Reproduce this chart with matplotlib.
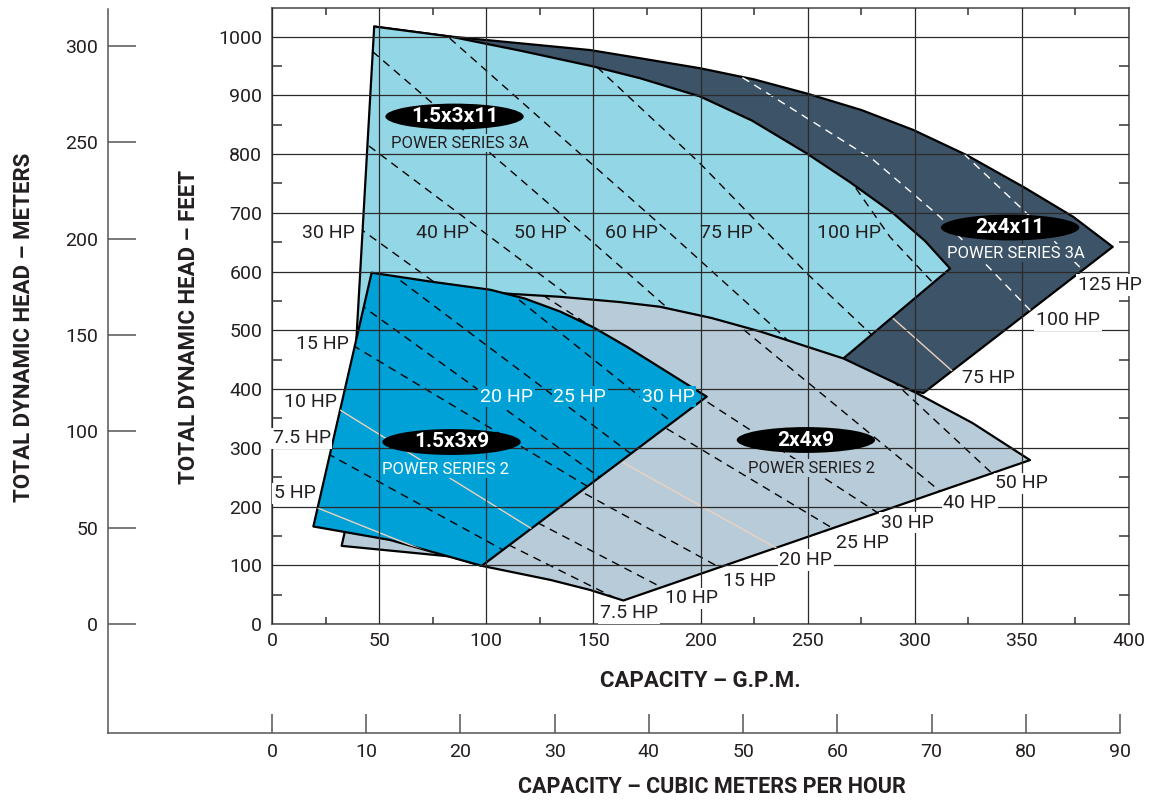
import numpy as np
import matplotlib.pyplot as plt
from matplotlib.patches import Polygon, Ellipse

plt.rcParams['font.family'] = ['Roboto', 'DejaVu Sans']
plt.rcParams['lines.scale_dashes'] = False

# ---- operating ranges, capacity (GPM) vs total dynamic head (ft)
q_3x11 = [47.7, 83.1, 115.8, 150.0, 171.8, 199.8, 224.0, 249.6, 269.8, 290.0, 304.8, 316.5,
          266.7, 199.8, 106.4, 46.7, 38.3]
h_3x11 = [1017, 1000, 976, 949, 929, 898, 857, 801, 752, 699, 652, 605,
          452, 475, 534, 552, 415]

q_4x11 = [47.7, 83.1, 148.4, 171.8, 199.8, 225.0, 249.6, 275.0, 299.3, 324.3, 350.7, 374.0, 392.4,
          304.0, 266.7, 153.1]
h_4x11 = [1017, 1000, 977, 963, 946, 927, 903, 875, 841, 798, 744, 693, 642,
          393, 424, 807]

q_3x9 = [46.5, 73.8, 101.8, 118.0, 134.4, 150.0, 165.6, 185.8, 202.9, 97.9, 55.1, 19.3]
h_3x9 = [598, 583, 569, 554, 532, 505, 472, 426, 387, 99, 143, 166]

q_4x9 = [59.7, 111.1, 134.4, 162.4, 181.1, 205.0, 227.8, 266.7, 300.9, 327.0, 353.8,
         164.0, 148.4, 130.0, 97.9, 83.1, 32.5]
h_4x9 = [577, 562, 557, 548, 540, 521, 498, 452, 393, 342, 279,
         40, 58, 75, 99, 115, 133]

# ---- horsepower lines for each pump
hp_3x11 = ['30 HP', '40 HP', '50 HP', '60 HP', '75 HP', '100 HP']
hpq_3x11 = [[35, 100.2, 160], [40, 139.1, 190], [42, 134.4, 185.8, 230],
            [78, 185.8, 234, 262], [147, 199.8, 249.6, 279.1, 300], [265, 288.4, 310]]
hph_3x11 = [[689, 517.5, 360], [828, 557, 417], [990, 699, 534, 393],
            [1013, 665, 506, 410], [964, 784, 597, 495, 422], [781, 659, 575]]

hp_4x11 = ['100 HP', '125 HP', '75 HP']
hpq_4x11 = [[214, 280.7, 311.8, 353.8, 362], [318, 352.3, 385], [285, 322]]
hph_4x11 = [[943, 790, 693, 534.5, 504], [817, 699, 578], [536, 416]]

hp_3x9 = ['5 HP', '7.5 HP', '10 HP', '15 HP', '20 HP', '25 HP', '30 HP']
hpq_3x9 = [[15, 120], [20, 140], [25, 160], [32, 180], [30, 190], [60, 210], [100, 220]]
hph_3x9 = [[206.7, 53.4], [301.8, 61.8], [379.5, 74.4], [486.8, 162.6],
           [573.2, 152.2], [584.4, 173.3], [596.4, 246.0]]

hp_4x9 = ['7.5 HP', '10 HP', '15 HP', '20 HP', '25 HP', '30 HP', '40 HP', '50 HP']
hpq_4x9 = [[40, 165], [60, 190], [60, 215], [80, 241], [100, 267], [110, 288], [200, 317], [280, 341]]
hph_4x9 = [[262.9, 35.4], [293.9, 46.9], [394.1, 84.1], [444.9, 118.0],
           [517.0, 151.3], [598.7, 176.8], [561.5, 210.5], [447.0, 239.6]]

# ---- pump names
models = ['1.5x3x11', '2x4x11', '1.5x3x9', '2x4x9']
series = ['POWER SERIES 3A', 'POWER SERIES 3A', 'POWER SERIES 2', 'POWER SERIES 2']

# layout (label anchors in data units)
lab_3x11 = [(38.7, 665.5, 'right'), (67.2, 665.5, 'left'), (113.0, 665.5, 'left'),
            (155.4, 665.5, 'left'), (199.8, 665.5, 'left'), (254.2, 665.5, 'left')]
lab_4x11 = [(356.6, 517.5), (376.2, 577.0), (322.1, 418.7)]
lab_3x9 = [(20.5, 222.5, 'right'), (27.4, 316.1, 'right'), (30.2, 378.4, 'right'),
           (36.1, 476.6, 'right'), (97.1, 386.9, 'left'), (131.3, 386.9, 'left'),
           (172.6, 386.9, 'left')]
lab_4x9 = [(153.1, 18.7), (183.4, 43.7), (210.4, 73.7), (236.8, 108.9),
           (263.2, 137.4), (284.2, 172.4), (313.3, 206.5), (337.5, 239.5)]
ell_pos = [(85.2, 863.8), (344.5, 674.9), (83.8, 309.8), (249.2, 313.2)]
sub_pos = [(87.7, 818.7), (347.3, 631.5), (81.2, 263.8), (251.6, 265.5)]

c_3x11 = '#93d7e6'
c_4x11 = '#3d5367'
c_3x9 = '#00a1d6'
c_4x9 = '#b7ccd8'
txt = '#231f20'
light = '#ecd2c0'

W, H = 1164, 800
fig = plt.figure(figsize=(W / 100, H / 100), dpi=100)

# secondary scales: meters and m3/h
axm = fig.add_axes([108 / W, 1 - 733 / H, (1120 - 108) / W, (733 - 9) / H])
axm.patch.set_visible(False)
axm.spines['top'].set_visible(False)
axm.spines['right'].set_visible(False)
for s in ['left', 'bottom']:
    axm.spines[s].set_color('#555555')
    axm.spines[s].set_linewidth(1.1)
axm.set_xlim(-17.4, 90.0)
axm.set_ylim(-56.55, 319.07)
axm.set_xticks(np.arange(0, 91, 10))
axm.set_yticks(np.arange(0, 301, 50))
axm.tick_params(axis='y', direction='in', length=20, width=1.1, color='#555555',
                labelsize=14, labelcolor=txt, pad=7)
axm.tick_params(axis='x', direction='in', length=14, width=1.1, color='#555555',
                labelsize=14, labelcolor=txt, pad=7)

# main chart
ax = fig.add_axes([272 / W, 1 - 624 / H, 857 / W, 616.5 / H])
ax.set_xlim(0, 400)
ax.set_ylim(0, 1049.4)
ax.set_xticks(np.arange(0, 401, 50))
ax.set_yticks(np.arange(0, 1001, 100))
ax.set_xticks(np.arange(25, 400, 50), minor=True)
ax.set_yticks(np.arange(50, 1050, 100), minor=True)
ax.tick_params(which='major', length=0, labelsize=14, labelcolor=txt)
ax.tick_params(axis='x', which='major', pad=6)
ax.tick_params(axis='y', which='major', pad=7)
ax.tick_params(axis='x', which='minor', direction='in', top=True, bottom=True,
               length=5, width=1.1, color='#333333')
ax.tick_params(axis='y', which='minor', direction='in', left=True, right=True,
               length=7, width=1.1, color='#333333')
ax.grid(True, which='major', color='#2a2a2a', lw=0.9)
ax.set_axisbelow(False)
for s in ax.spines.values():
    s.set_color('#444444')
    s.set_linewidth(1.1)


def region(q, h, color, z):
    p = Polygon(np.column_stack([q, h]), closed=True, fc=color, ec='black',
                lw=1.6, zorder=z, joinstyle='round')
    ax.add_patch(p)
    return p


def hp_lines(qs, hs, poly, color, z, solid=()):
    for i in range(len(qs)):
        if i in solid:
            ln, = ax.plot(qs[i], hs[i], color=light, lw=1.0, zorder=z)
        else:
            ln, = ax.plot(qs[i], hs[i], color=color, lw=1.0, dashes=(5.8, 4.3), zorder=z)
        ln.set_clip_path(poly)


def hp_text(name, q, h, ha='left', color=txt, bg=None):
    box = None
    if bg is not None:
        box = dict(boxstyle='square,pad=0.08', fc=bg, ec='none')
    ax.text(q, h, name, ha=ha, va='center', fontsize=14, color=color,
            bbox=box, zorder=5, clip_on=False)


p_4x11 = region(q_4x11, h_4x11, c_4x11, 1.0)
hp_lines(hpq_4x11, hph_4x11, p_4x11, 'white', 1.05, solid=(2,))

p_3x11 = region(q_3x11, h_3x11, c_3x11, 1.1)
hp_lines(hpq_3x11, hph_3x11, p_3x11, 'black', 1.15)

p_4x9 = region(q_4x9, h_4x9, c_4x9, 1.2)
hp_lines(hpq_4x9, hph_4x9, p_4x9, 'black', 1.25, solid=(3,))

p_3x9 = region(q_3x9, h_3x9, c_3x9, 1.3)
hp_lines(hpq_3x9, hph_3x9, p_3x9, 'black', 1.35, solid=(0, 2))

# horsepower labels
for name, (q, h, ha) in zip(hp_3x11, lab_3x11):
    hp_text(name, q, h, ha=ha, bg='white' if ha == 'right' else None)
for name, (q, h) in zip(hp_4x11, lab_4x11):
    hp_text(name, q, h, bg='white')
for name, (q, h, ha) in zip(hp_3x9, lab_3x9):
    if ha == 'right':
        hp_text(name, q, h, ha='right', bg='white')
    else:
        hp_text(name, q, h, color='white', bg=c_3x9)
for name, (q, h) in zip(hp_4x9, lab_4x9):
    hp_text(name, q, h, bg='white')

# model badges
fills = [c_3x11, c_4x11, c_3x9, c_4x9]
sub_colors = [txt, 'white', 'white', txt]
for m, s, (eq, eh), (sq, sh), fc, sc in zip(models, series, ell_pos, sub_pos, fills, sub_colors):
    ax.add_patch(Ellipse((eq, eh), 64.6, 44, fc='black', ec='none', zorder=4))
    ax.text(eq, eh, m, ha='center', va='center', fontsize=15, fontweight='bold',
            color='white', zorder=5)
    ax.text(sq, sh, s, ha='center', va='center', fontsize=12, color=sc, zorder=4,
            bbox=dict(boxstyle='square,pad=0.08', fc=fc, ec='none'))

# axis titles
fig.text(700 / W, 1 - 681 / H, 'CAPACITY – G.P.M.', ha='center', va='center',
         fontsize=16, fontweight='bold', color=txt)
fig.text(712 / W, 1 - 787 / H, 'CAPACITY – CUBIC METERS PER HOUR', ha='center',
         va='center', fontsize=15.5, fontweight='bold', color=txt)
fig.text(24 / W, 1 - 327 / H, 'TOTAL DYNAMIC HEAD – METERS', rotation=90,
         ha='center', va='center', fontsize=16, fontweight='bold', color=txt)
fig.text(189 / W, 1 - 327 / H, 'TOTAL DYNAMIC HEAD – FEET', rotation=90,
         ha='center', va='center', fontsize=16, fontweight='bold', color=txt)

fig.savefig('out.png', dpi=100)
